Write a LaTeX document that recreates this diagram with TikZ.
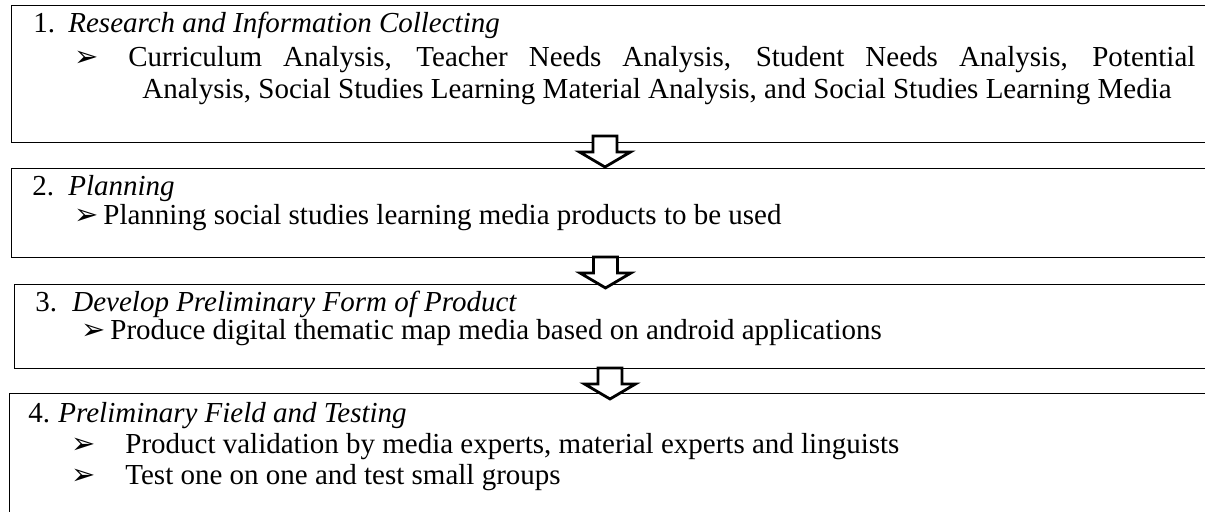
\documentclass[tikz,border=0pt]{standalone}
\usepackage{fontspec}
\setmainfont{Liberation Serif}
\newfontfamily\dingfont{DejaVu Sans}
\usetikzlibrary{positioning}

\newcommand{\bul}{{\dingfont\fontsize{14.5}{14.5}\selectfont ➢}}

\begin{document}
\begin{tikzpicture}[x=0.5pt,y=-0.5pt,font=\fontsize{14.5}{17}\selectfont]
\tikzstyle{every node}+=[inner sep=0pt]
\tikzstyle{stagebox}=[draw=black,line width=0.65pt,rectangle,anchor=north west]
\tikzstyle{bullet}=[anchor=base east]
\tikzstyle{blockarrow}=[draw=black,line width=1.4pt,fill=white,line join=miter]
\useasboundingbox (0,0) rectangle (1205,512);
\node[stagebox,minimum width=602pt,minimum height=68.5pt] (s1) at (11,5) {};
\node[stagebox,minimum width=602pt,minimum height=44.5pt] (s2) at (11,168) {};
\node[stagebox,minimum width=602pt,minimum height=42pt] (s3) at (14,284) {};
\node[stagebox,minimum width=602pt,minimum height=70pt] (s4) at (9,393) {};
\node[anchor=base west] (n1) at (33,33) {1.};
\node[anchor=base west] (t1) at (68,33) {\textit{Research and Information Collecting}};
\node[bullet] (k1) at (99,67) {\bul};
\node[anchor=base west] (p1) at (128,67) {\makebox[533.5pt][s]{Curriculum Analysis, Teacher Needs Analysis, Student Needs Analysis, Potential}};
\node[anchor=base west] (q1) at (142,99) {Analysis, Social Studies Learning Material Analysis, and Social Studies Learning Media};
\node[anchor=base west] (n2) at (32,196) {2.};
\node[anchor=base west] (t2) at (68,196) {\textit{Planning}};
\node[bullet] (k2) at (99,225) {\bul};
\node[anchor=base west] (p2) at (103,225) {Planning social studies learning media products to be used};
\node[anchor=base west] (n3) at (35,312) {3.};
\node[anchor=base west] (t3) at (72,312) {\textit{Develop Preliminary Form of Product}};
\node[bullet] (k3) at (106,340) {\bul};
\node[anchor=base west] (p3) at (110,340) {Produce digital thematic map media based on android applications};
\node[anchor=base west] (n4) at (28,423) {4.};
\node[anchor=base west] (t4) at (58,423) {\textit{Preliminary Field and Testing}};
\node[bullet] (k4) at (96,454) {\bul};
\node[anchor=base west] (p4) at (125,454) {Product validation by media experts, material experts and linguists};
\node[bullet] (k5) at (96,485) {\bul};
\node[anchor=base west] (p5) at (125,485) {Test one on one and test small groups};
\coordinate (a1) at (605,136);
\coordinate (a2) at (605.5,257);
\coordinate (a3) at (610,368);
\foreach \a in {a1,a2,a3}
  \draw[blockarrow] (\a) ++(-12,0) -- ++(24,0) -- ++(0,16) -- ++(13.5,0) -- ++(-25.5,15) -- ++(-25.5,-15) -- ++(13.5,0) -- cycle;
\end{tikzpicture}
\end{document}
